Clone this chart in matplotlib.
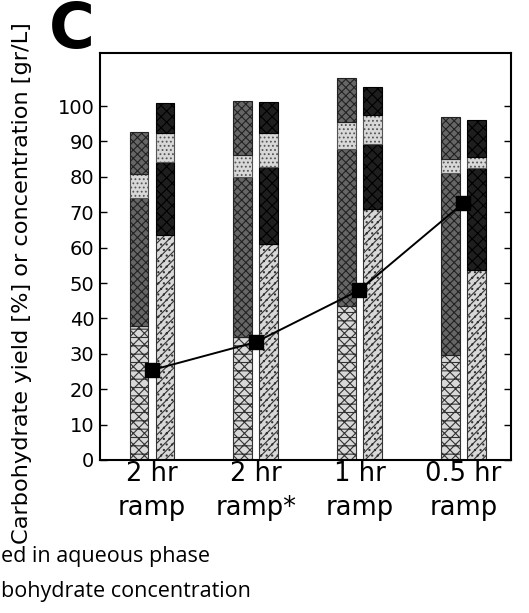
import matplotlib
matplotlib.use("Agg")
import matplotlib.pyplot as plt
import numpy as np

categories = ["2 hr\nramp", "2 hr\nramp*", "1 hr\nramp", "0.5 hr\nramp"]

# Left bars (yield segments, bottom -> top)
left_seg1 = [37.9, 34.7, 43.5, 29.7]
left_seg2 = [36.0, 45.2, 44.5, 51.3]
left_seg3 = [6.9, 6.3, 7.6, 3.9]
left_seg4 = [12.0, 15.2, 12.4, 12.1]

# Right bars (bottom -> top)
right_seg1 = [63.6, 61.0, 71.0, 53.7]
right_seg2 = [20.7, 21.9, 18.4, 28.7]
right_seg3 = [8.2, 9.4, 8.0, 3.3]
right_seg4 = [8.5, 8.9, 8.1, 10.3]

concentration = [25.4, 33.3, 48.0, 72.6]

yticks = [0, 10, 20, 30, 40, 50, 60, 70, 80, 90, 100]

plt.rcParams['hatch.linewidth'] = 0.8

fig = plt.figure(figsize=(5.29, 6.13), dpi=100)
ax = fig.add_axes([0.189, 0.2496, 0.777, 0.664])

x = np.arange(len(categories))
w = 0.18
off = 0.125

left_styles = [
    dict(facecolor="#d8d8d8", hatch="xxx--", edgecolor="#333333"),
    dict(facecolor="#666666", hatch="xxxx", edgecolor="#222222"),
    dict(facecolor="#d8d8d8", hatch="....", edgecolor="#555555"),
    dict(facecolor="#666666", hatch="xxxx", edgecolor="#222222"),
]
right_styles = [
    dict(facecolor="#d8d8d8", hatch="////...", edgecolor="#333333"),
    dict(facecolor="#1e1e1e", hatch="xxx", edgecolor="#000000"),
    dict(facecolor="#d8d8d8", hatch="....", edgecolor="#555555"),
    dict(facecolor="#1e1e1e", hatch="xxx", edgecolor="#000000"),
]

bottom = np.zeros(len(categories))
for seg, st in zip([left_seg1, left_seg2, left_seg3, left_seg4], left_styles):
    ax.bar(x - off, seg, w, bottom=bottom, linewidth=0.8, **st)
    bottom += np.array(seg)

bottom = np.zeros(len(categories))
for seg, st in zip([right_seg1, right_seg2, right_seg3, right_seg4], right_styles):
    ax.bar(x + off, seg, w, bottom=bottom, linewidth=0.8, **st)
    bottom += np.array(seg)

ax.plot(x, concentration, color="black", linewidth=1.4, marker="s",
        markersize=10, markerfacecolor="black", zorder=5)

ax.set_xlim(-0.5, 3.46)
ax.set_ylim(0, 115)
ax.set_yticks(yticks)
ax.set_yticklabels([str(t) for t in yticks], fontsize=14)
ax.set_xticks(x)
ax.set_xticklabels(categories, fontsize=18.5, linespacing=1.4)
ax.tick_params(axis="y", direction="in", left=True, right=True, length=5, width=1, pad=4)
ax.tick_params(axis="x", length=0, pad=1)
for s in ax.spines.values():
    s.set_linewidth(1.5)

ax.set_ylabel("Carbohydrate yield [%] or concentration [gr/L]", fontsize=16.2)
ax.yaxis.set_label_coords(-0.165, 0.435)

fig.text(0.093, 1 - 48 / 613, "C", fontsize=45, fontweight="bold", ha="left",
         va="baseline", family="DejaVu Sans")

fig.text(0.002, 1 - 562 / 613, "ed in aqueous phase", fontsize=15.5, ha="left",
         va="baseline", family="Open Sans")
fig.text(0.002, 1 - 597 / 613, "bohydrate concentration", fontsize=15.5, ha="left",
         va="baseline", family="Open Sans")

fig.savefig("out.png", dpi=100)
